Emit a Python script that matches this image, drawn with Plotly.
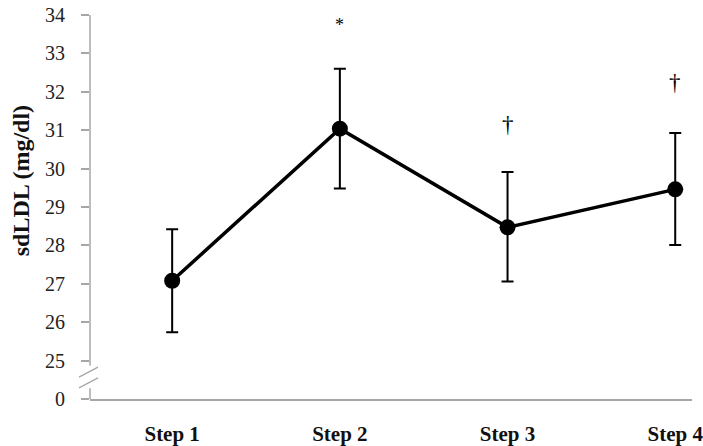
import plotly.graph_objects as go

steps = ["Step 1", "Step 2", "Step 3", "Step 4"]
means = [27.08, 31.04, 28.47, 29.46]
err_plus = [1.34, 1.56, 1.44, 1.47]
err_minus = [1.34, 1.56, 1.41, 1.45]
sig_marks = ["", "*", "†", "†"]
sig_y = [None, 33.75, 31.15, 32.24]

y_tickvals = [24, 25, 26, 27, 28, 29, 30, 31, 32, 33, 34]
y_ticktext = ["0", "25", "26", "27", "28", "29", "30", "31", "32", "33", "34"]

xpos = list(range(len(steps)))
AX = "#a6a6a6"
FONT = "Liberation Serif, Times New Roman, serif"

fig = go.Figure()
fig.add_trace(go.Scatter(
    x=xpos, y=means, mode="lines+markers",
    line=dict(color="black", width=3.5),
    marker=dict(color="black", size=16, symbol="circle"),
    error_y=dict(type="data", symmetric=False, array=err_plus, arrayminus=err_minus,
                 color="black", thickness=2, width=6),
    showlegend=False, hoverinfo="skip",
))

for xi, m, yv in zip(xpos, sig_marks, sig_y):
    if m:
        fig.add_annotation(x=xi, y=yv, text=m, showarrow=False,
                           font=dict(family=FONT, size=23 if m == "†" else 18, color="#000000"),
                           xanchor="center", yanchor="middle")

# y-axis line drawn in two parts with a break
fig.add_shape(type="line", xref="paper", yref="y", x0=0, x1=0, y0=24.87, y1=34,
              line=dict(color=AX, width=1.5))
fig.add_shape(type="line", xref="paper", yref="y", x0=0, x1=0, y0=24.0, y1=24.28,
              line=dict(color=AX, width=1.5))
for y_anchor in (24.42, 24.70):
    fig.add_shape(type="line", xref="paper", yref="y", xsizemode="pixel", xanchor=0,
                  ysizemode="pixel", yanchor=y_anchor,
                  x0=-11, x1=8, y0=-5, y1=5, line=dict(color=AX, width=1.2))

fig.add_annotation(text="<b>sdLDL (mg/dl)</b>", textangle=-90, showarrow=False,
                   xref="paper", yref="paper", x=0, y=0.567, xshift=-69,
                   xanchor="center", yanchor="middle",
                   font=dict(family=FONT, size=24, color="#111"))

fig.update_layout(
    width=703, height=446,
    margin=dict(l=90, r=0, t=15, b=45),
    paper_bgcolor="white", plot_bgcolor="white",
    font=dict(family=FONT, color="#222"),
    xaxis=dict(
        range=[-0.49, 3.10], tickvals=xpos, ticktext=["<b>%s</b>" % s for s in steps],
        showgrid=False, zeroline=False, showline=True, linecolor=AX, linewidth=1.5,
        ticks="", tickfont=dict(family=FONT, size=21, color="#111"), ticklabelstandoff=15,
        ticklabeloverflow="allow",
    ),
    yaxis=dict(
        range=[24, 34], tickvals=y_tickvals, ticktext=y_ticktext,
        showgrid=False, zeroline=False, showline=False,
        ticks="outside", ticklen=8, tickcolor=AX, tickwidth=1.5,
        tickfont=dict(family=FONT, size=20, color="#222"), ticklabelstandoff=12,
    ),
)

fig.write_html("out.html", config={"displayModeBar": False},
               post_script="document.body.style.margin='0';document.body.style.overflow='hidden';")
